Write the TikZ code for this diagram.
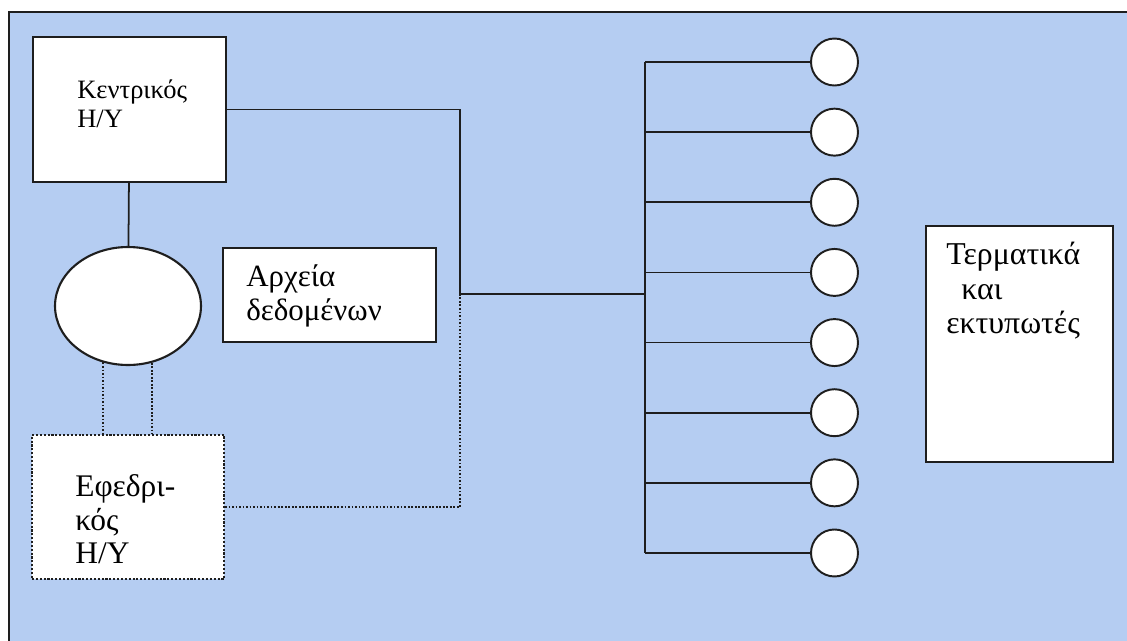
\documentclass[tikz,border=0pt]{standalone}
\usepackage{fontspec}
\setmainfont{Liberation Serif}
\usepackage{xcolor}
\usetikzlibrary{shapes.geometric, positioning, calc}
\definecolor{netbg}{RGB}{181,205,242}
\definecolor{netline}{RGB}{30,30,30}

\begin{document}
\begin{tikzpicture}[
  x=0.02cm, y=-0.02cm,
  unitbox/.style={rectangle, draw=netline, fill=white, line width=1.2pt,
                  inner sep=0pt},
  sparebox/.style={unitbox, densely dotted},
  disk/.style={ellipse, draw=netline, fill=white, line width=1.2pt,
               minimum width=2.92cm, minimum height=2.36cm, inner sep=0pt},
  term/.style={circle, draw=netline, fill=white, line width=1.1pt,
               minimum size=0.94cm, inner sep=0pt},
  boxtext/.style={anchor=base west, align=left, inner sep=0pt},
  wire/.style={draw=netline, line width=1pt},
  spare/.style={wire, densely dotted},
]
\useasboundingbox (0,0) rectangle (1127,640);

% Background and frame
\fill[netbg] (9,12) rectangle (1140,650);
\draw[netline, line width=1.3pt] (1140,12) -- (9,12) -- (9,650);

% Central computer, disk, data files, backup computer
\node[unitbox, minimum width=3.86cm, minimum height=2.9cm] (main) at (129.5,109.5) {};
\node[disk] (dsk) at (128,306) {};
\node[unitbox, minimum width=4.26cm, minimum height=1.88cm] (files) at (329.5,295) {};
\node[sparebox, minimum width=3.84cm, minimum height=2.88cm] (backup) at (128,507) {};

% Terminals and printers
\node[unitbox, minimum width=3.74cm, minimum height=4.72cm] (terms) at (1019.5,344) {};

% Texts
\node[boxtext, font=\fontsize{15.1}{17}\selectfont]
  (mainlbl) at ([xshift=0.9cm, yshift=-1.84cm]main.north west) {Κεντρικός\\Η/Υ};
\node[boxtext, font=\fontsize{17.6}{19.8}\selectfont]
  (fileslbl) at ([xshift=0.48cm, yshift=-1.48cm]files.north west) {Αρχεία\\δεδομένων};
\node[boxtext, font=\fontsize{17.9}{19.3}\selectfont]
  (backuplbl) at ([xshift=0.88cm, yshift=-2.6cm]backup.north west) {Εφεδρι-\\κός\\Η/Υ};
\node[boxtext, font=\fontsize{18.1}{19.8}\selectfont]
  (termslbl) at ([xshift=0.42cm, yshift=-2.18cm]terms.north west)
  {Τερματικά\\\hspace*{0.3cm}και\\εκτυπωτές};

% Terminal circles
\foreach \i in {1,...,8}
  \node[term] (t\i) at (834.5,{62+70.14*(\i-1)}) {};

% Junctions
\coordinate (jn)  at (460,294);
\coordinate (hub) at (645,294);

% Connections
\draw[wire] (main) -- (dsk);
\draw[wire] (main.east) -| (jn) -- (hub);
\draw[wire] (t1.west -| hub) -- (t8.west -| hub);
\foreach \i in {1,...,8}
  \draw[wire] (t\i.west -| hub) -- (t\i.west);

% Backup links
\draw[spare] (dsk.246.7) -- (dsk.246.7 |- backup.north);
\draw[spare] (dsk.293.3) -- (dsk.293.3 |- backup.north);
\draw[spare] (backup.east) -| (jn);

\end{tikzpicture}
\end{document}
